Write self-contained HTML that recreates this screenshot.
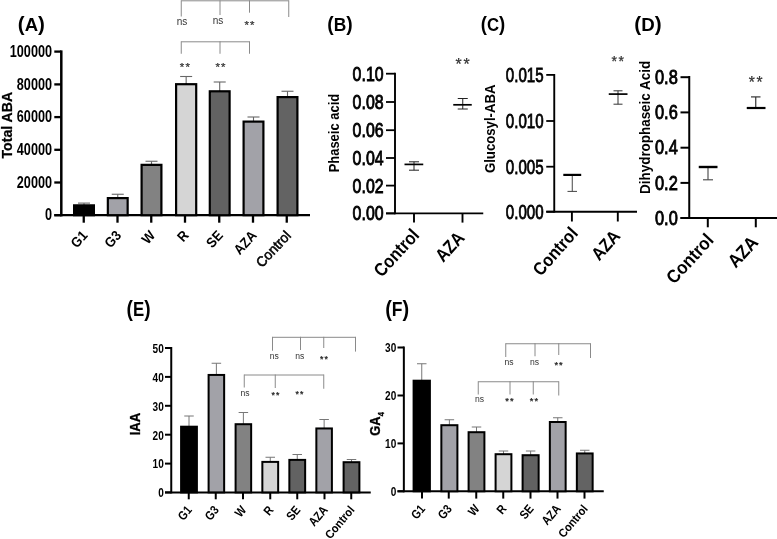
<!DOCTYPE html>
<html><head><meta charset="utf-8"><title>Figure</title>
<style>html,body{margin:0;padding:0;background:#fff;}svg{display:block;}</style></head>
<body><svg width="777" height="539" viewBox="0 0 777 539">
<defs><filter id="sb" x="0" y="0" width="100%" height="100%"><feGaussianBlur stdDeviation="0.35"/></filter></defs>
<rect width="777" height="539" fill="#fff"/>
<g filter="url(#sb)">
<text x="17.8" y="30.9" font-weight="bold" font-family="Liberation Sans, sans-serif" textLength="27.1" lengthAdjust="spacingAndGlyphs"><tspan font-size="20.5">(</tspan><tspan font-size="18.5">A</tspan><tspan font-size="20.5">)</tspan></text>
<line x1="61.3" y1="50.4" x2="61.3" y2="216.39999999999998" stroke="#000" stroke-width="2.5" stroke-linecap="butt"/>
<line x1="54.3" y1="215.1" x2="310" y2="215.1" stroke="#000" stroke-width="2.2" stroke-linecap="butt"/>
<line x1="54.3" y1="51.6" x2="61.3" y2="51.6" stroke="#000" stroke-width="2.3" stroke-linecap="butt"/>
<text x="0" y="0" font-size="16.5" font-weight="bold" text-anchor="end" fill="#000" font-family="Liberation Sans, sans-serif" transform="translate(52 56.800000000000004)" textLength="42.24" lengthAdjust="spacingAndGlyphs" >100000</text>
<line x1="54.3" y1="84.4" x2="61.3" y2="84.4" stroke="#000" stroke-width="2.3" stroke-linecap="butt"/>
<text x="0" y="0" font-size="16.5" font-weight="bold" text-anchor="end" fill="#000" font-family="Liberation Sans, sans-serif" transform="translate(52 89.60000000000001)" textLength="35.2" lengthAdjust="spacingAndGlyphs" >80000</text>
<line x1="54.3" y1="117.1" x2="61.3" y2="117.1" stroke="#000" stroke-width="2.3" stroke-linecap="butt"/>
<text x="0" y="0" font-size="16.5" font-weight="bold" text-anchor="end" fill="#000" font-family="Liberation Sans, sans-serif" transform="translate(52 122.3)" textLength="35.2" lengthAdjust="spacingAndGlyphs" >60000</text>
<line x1="54.3" y1="149.8" x2="61.3" y2="149.8" stroke="#000" stroke-width="2.3" stroke-linecap="butt"/>
<text x="0" y="0" font-size="16.5" font-weight="bold" text-anchor="end" fill="#000" font-family="Liberation Sans, sans-serif" transform="translate(52 155.0)" textLength="35.2" lengthAdjust="spacingAndGlyphs" >40000</text>
<line x1="54.3" y1="182.5" x2="61.3" y2="182.5" stroke="#000" stroke-width="2.3" stroke-linecap="butt"/>
<text x="0" y="0" font-size="16.5" font-weight="bold" text-anchor="end" fill="#000" font-family="Liberation Sans, sans-serif" transform="translate(52 187.7)" textLength="35.2" lengthAdjust="spacingAndGlyphs" >20000</text>
<line x1="54.3" y1="215.2" x2="61.3" y2="215.2" stroke="#000" stroke-width="2.3" stroke-linecap="butt"/>
<text x="0" y="0" font-size="16.5" font-weight="bold" text-anchor="end" fill="#000" font-family="Liberation Sans, sans-serif" transform="translate(52 220.39999999999998)" textLength="7.04" lengthAdjust="spacingAndGlyphs" >0</text>
<text x="0" y="0" font-size="15" font-weight="bold" text-anchor="middle" fill="#000" font-family="Liberation Sans, sans-serif" transform="translate(12.3 125.2) rotate(-90)" textLength="66.5" lengthAdjust="spacingAndGlyphs" stroke="#000" stroke-width="0.25">Total ABA</text>
<line x1="84.0" y1="203.1" x2="84.0" y2="205.25" stroke="#666" stroke-width="1.1" stroke-linecap="butt"/>
<line x1="78.0" y1="203.1" x2="90.0" y2="203.1" stroke="#666" stroke-width="1.1" stroke-linecap="butt"/>
<rect x="74.1" y="205.35" width="19.8" height="9.849999999999989" fill="#000000" stroke="#000" stroke-width="2.2"/>
<line x1="83.75" y1="215.2" x2="83.75" y2="222.7" stroke="#000" stroke-width="2.3" stroke-linecap="butt"/>
<text x="0" y="0" font-size="14" font-weight="bold" text-anchor="end" fill="#000" font-family="Liberation Sans, sans-serif" transform="translate(88.35 236) rotate(-47.5) scale(0.92 1)" >G1</text>
<line x1="117.75" y1="194.25" x2="117.75" y2="198" stroke="#666" stroke-width="1.1" stroke-linecap="butt"/>
<line x1="111.75" y1="194.25" x2="123.75" y2="194.25" stroke="#666" stroke-width="1.1" stroke-linecap="butt"/>
<rect x="107.85" y="198.1" width="19.8" height="17.099999999999987" fill="#a2a2a8" stroke="#000" stroke-width="2.2"/>
<line x1="117.5" y1="215.2" x2="117.5" y2="222.7" stroke="#000" stroke-width="2.3" stroke-linecap="butt"/>
<text x="0" y="0" font-size="14" font-weight="bold" text-anchor="end" fill="#000" font-family="Liberation Sans, sans-serif" transform="translate(122.1 236) rotate(-47.5) scale(0.92 1)" >G3</text>
<line x1="151.5" y1="161.25" x2="151.5" y2="164.75" stroke="#666" stroke-width="1.1" stroke-linecap="butt"/>
<line x1="145.5" y1="161.25" x2="157.5" y2="161.25" stroke="#666" stroke-width="1.1" stroke-linecap="butt"/>
<rect x="141.6" y="164.85" width="19.8" height="50.34999999999999" fill="#828282" stroke="#000" stroke-width="2.2"/>
<line x1="151.25" y1="215.2" x2="151.25" y2="222.7" stroke="#000" stroke-width="2.3" stroke-linecap="butt"/>
<text x="0" y="0" font-size="14" font-weight="bold" text-anchor="end" fill="#000" font-family="Liberation Sans, sans-serif" transform="translate(155.85 236) rotate(-47.5) scale(0.92 1)" >W</text>
<line x1="186.15" y1="76.5" x2="186.15" y2="84.1" stroke="#666" stroke-width="1.1" stroke-linecap="butt"/>
<line x1="180.15" y1="76.5" x2="192.15" y2="76.5" stroke="#666" stroke-width="1.1" stroke-linecap="butt"/>
<rect x="176.1" y="84.19999999999999" width="20.100000000000012" height="131.0" fill="#d5d5d5" stroke="#000" stroke-width="2.2"/>
<line x1="185" y1="215.2" x2="185" y2="222.7" stroke="#000" stroke-width="2.3" stroke-linecap="butt"/>
<text x="0" y="0" font-size="14" font-weight="bold" text-anchor="end" fill="#000" font-family="Liberation Sans, sans-serif" transform="translate(189.6 236) rotate(-47.5) scale(0.92 1)" >R</text>
<line x1="219.7" y1="82" x2="219.7" y2="91.2" stroke="#666" stroke-width="1.1" stroke-linecap="butt"/>
<line x1="213.7" y1="82" x2="225.7" y2="82" stroke="#666" stroke-width="1.1" stroke-linecap="butt"/>
<rect x="209.79999999999998" y="91.3" width="19.8" height="123.89999999999999" fill="#626262" stroke="#000" stroke-width="2.2"/>
<line x1="219.25" y1="215.2" x2="219.25" y2="222.7" stroke="#000" stroke-width="2.3" stroke-linecap="butt"/>
<text x="0" y="0" font-size="14" font-weight="bold" text-anchor="end" fill="#000" font-family="Liberation Sans, sans-serif" transform="translate(223.85 236) rotate(-47.5) scale(0.92 1)" >SE</text>
<line x1="253.5" y1="117" x2="253.5" y2="121.5" stroke="#666" stroke-width="1.1" stroke-linecap="butt"/>
<line x1="247.5" y1="117" x2="259.5" y2="117" stroke="#666" stroke-width="1.1" stroke-linecap="butt"/>
<rect x="243.6" y="121.6" width="19.8" height="93.6" fill="#a2a2a8" stroke="#000" stroke-width="2.2"/>
<line x1="253" y1="215.2" x2="253" y2="222.7" stroke="#000" stroke-width="2.3" stroke-linecap="butt"/>
<text x="0" y="0" font-size="14" font-weight="bold" text-anchor="end" fill="#000" font-family="Liberation Sans, sans-serif" transform="translate(257.6 236) rotate(-47.5) scale(0.92 1)" >AZA</text>
<line x1="287.5" y1="91.25" x2="287.5" y2="97" stroke="#666" stroke-width="1.1" stroke-linecap="butt"/>
<line x1="281.5" y1="91.25" x2="293.5" y2="91.25" stroke="#666" stroke-width="1.1" stroke-linecap="butt"/>
<rect x="277.6" y="97.1" width="19.8" height="118.1" fill="#646464" stroke="#000" stroke-width="2.2"/>
<line x1="286.75" y1="215.2" x2="286.75" y2="222.7" stroke="#000" stroke-width="2.3" stroke-linecap="butt"/>
<text x="0" y="0" font-size="14" font-weight="normal" text-anchor="end" fill="#000" font-family="Liberation Sans, sans-serif" transform="translate(291.75 236.2) rotate(-47) scale(0.97 1)" stroke="#000" stroke-width="0.55">Control</text>
<line x1="181.25" y1="0.8" x2="288.75" y2="0.8" stroke="#8a8a8a" stroke-width="1" stroke-linecap="butt"/>
<line x1="181.25" y1="0.30000000000000004" x2="181.25" y2="16.5" stroke="#8a8a8a" stroke-width="1" stroke-linecap="butt"/>
<line x1="220" y1="0.30000000000000004" x2="220" y2="15" stroke="#8a8a8a" stroke-width="1" stroke-linecap="butt"/>
<line x1="249.5" y1="0.30000000000000004" x2="249.5" y2="12.7" stroke="#8a8a8a" stroke-width="1" stroke-linecap="butt"/>
<line x1="288.75" y1="0.30000000000000004" x2="288.75" y2="17" stroke="#8a8a8a" stroke-width="1" stroke-linecap="butt"/>
<line x1="181.25" y1="41.8" x2="249.5" y2="41.8" stroke="#8a8a8a" stroke-width="1" stroke-linecap="butt"/>
<line x1="181.25" y1="41.3" x2="181.25" y2="53.75" stroke="#8a8a8a" stroke-width="1" stroke-linecap="butt"/>
<line x1="220" y1="41.3" x2="220" y2="53.75" stroke="#8a8a8a" stroke-width="1" stroke-linecap="butt"/>
<line x1="249.5" y1="41.3" x2="249.5" y2="53.75" stroke="#8a8a8a" stroke-width="1" stroke-linecap="butt"/>
<text x="0" y="0" font-size="10.92" font-weight="normal" text-anchor="middle" fill="#333" font-family="Liberation Sans, sans-serif" transform="translate(182 24.5) scale(0.92 1)" >ns</text>
<text x="0" y="0" font-size="10.92" font-weight="normal" text-anchor="middle" fill="#333" font-family="Liberation Sans, sans-serif" transform="translate(218 24) scale(0.92 1)" >ns</text>
<text x="0" y="0" font-size="11.41" font-weight="normal" text-anchor="middle" fill="#333" font-family="Liberation Sans, sans-serif" transform="translate(250.12755 28.87)" letter-spacing="1.26" stroke="#333" stroke-width="0.25">**</text>
<text x="0" y="0" font-size="11.41" font-weight="normal" text-anchor="middle" fill="#333" font-family="Liberation Sans, sans-serif" transform="translate(185.52755000000002 70.77)" letter-spacing="1.26" stroke="#333" stroke-width="0.25">**</text>
<text x="0" y="0" font-size="11.41" font-weight="normal" text-anchor="middle" fill="#333" font-family="Liberation Sans, sans-serif" transform="translate(221.12755 70.77)" letter-spacing="1.26" stroke="#333" stroke-width="0.25">**</text>
<text x="327.3" y="30.9" font-weight="bold" font-family="Liberation Sans, sans-serif" textLength="25.4" lengthAdjust="spacingAndGlyphs"><tspan font-size="20.5">(</tspan><tspan font-size="18.5">B</tspan><tspan font-size="20.5">)</tspan></text>
<line x1="395" y1="72.7" x2="395" y2="214.3" stroke="#000" stroke-width="1.9" stroke-linecap="butt"/>
<line x1="386" y1="213.4" x2="483.25" y2="213.4" stroke="#000" stroke-width="1.9" stroke-linecap="butt"/>
<line x1="386" y1="73.7" x2="395" y2="73.7" stroke="#000" stroke-width="1.8" stroke-linecap="butt"/>
<text x="0" y="0" font-size="20.5" font-weight="normal" text-anchor="end" fill="#000" font-family="Liberation Sans, sans-serif" transform="translate(383.6 80.60000000000001)" textLength="31" lengthAdjust="spacingAndGlyphs" stroke="#000" stroke-width="0.9">0.10</text>
<line x1="386" y1="102" x2="395" y2="102" stroke="#000" stroke-width="1.8" stroke-linecap="butt"/>
<text x="0" y="0" font-size="20.5" font-weight="normal" text-anchor="end" fill="#000" font-family="Liberation Sans, sans-serif" transform="translate(383.6 108.9)" textLength="31" lengthAdjust="spacingAndGlyphs" stroke="#000" stroke-width="0.9">0.08</text>
<line x1="386" y1="130.2" x2="395" y2="130.2" stroke="#000" stroke-width="1.8" stroke-linecap="butt"/>
<text x="0" y="0" font-size="20.5" font-weight="normal" text-anchor="end" fill="#000" font-family="Liberation Sans, sans-serif" transform="translate(383.6 137.1)" textLength="31" lengthAdjust="spacingAndGlyphs" stroke="#000" stroke-width="0.9">0.06</text>
<line x1="386" y1="158" x2="395" y2="158" stroke="#000" stroke-width="1.8" stroke-linecap="butt"/>
<text x="0" y="0" font-size="20.5" font-weight="normal" text-anchor="end" fill="#000" font-family="Liberation Sans, sans-serif" transform="translate(383.6 164.9)" textLength="31" lengthAdjust="spacingAndGlyphs" stroke="#000" stroke-width="0.9">0.04</text>
<line x1="386" y1="185.6" x2="395" y2="185.6" stroke="#000" stroke-width="1.8" stroke-linecap="butt"/>
<text x="0" y="0" font-size="20.5" font-weight="normal" text-anchor="end" fill="#000" font-family="Liberation Sans, sans-serif" transform="translate(383.6 192.5)" textLength="31" lengthAdjust="spacingAndGlyphs" stroke="#000" stroke-width="0.9">0.02</text>
<line x1="386" y1="213.4" x2="395" y2="213.4" stroke="#000" stroke-width="1.8" stroke-linecap="butt"/>
<text x="0" y="0" font-size="20.5" font-weight="normal" text-anchor="end" fill="#000" font-family="Liberation Sans, sans-serif" transform="translate(383.6 220.3)" textLength="31" lengthAdjust="spacingAndGlyphs" stroke="#000" stroke-width="0.9">0.00</text>
<text x="0" y="0" font-size="15.5" font-weight="bold" text-anchor="middle" fill="#000" font-family="Liberation Sans, sans-serif" transform="translate(338.5 133.1) rotate(-90)" textLength="78.5" lengthAdjust="spacingAndGlyphs" >Phaseic acid</text>
<line x1="414" y1="213.4" x2="414" y2="222.6" stroke="#000" stroke-width="1.9" stroke-linecap="butt"/>
<text x="0" y="0" font-size="18.5" font-weight="bold" text-anchor="end" fill="#000" font-family="Liberation Sans, sans-serif" transform="translate(420.3 235.9) rotate(-47.5) scale(0.87 1)" >Control</text>
<line x1="462.5" y1="213.4" x2="462.5" y2="222.6" stroke="#000" stroke-width="1.9" stroke-linecap="butt"/>
<text x="0" y="0" font-size="18.5" font-weight="bold" text-anchor="end" fill="#000" font-family="Liberation Sans, sans-serif" transform="translate(465.5 238.6) rotate(-47.5) scale(0.87 1)" >AZA</text>
<line x1="414" y1="161.8" x2="414" y2="170.2" stroke="#222" stroke-width="1" stroke-linecap="butt"/>
<line x1="409.0" y1="161.8" x2="419.0" y2="161.8" stroke="#222" stroke-width="1" stroke-linecap="butt"/>
<line x1="409.0" y1="170.2" x2="419.0" y2="170.2" stroke="#222" stroke-width="1" stroke-linecap="butt"/>
<line x1="404.5" y1="164.4" x2="423.25" y2="164.4" stroke="#000" stroke-width="1.7" stroke-linecap="butt"/>
<line x1="462.75" y1="98.5" x2="462.75" y2="109" stroke="#222" stroke-width="1" stroke-linecap="butt"/>
<line x1="457.75" y1="98.5" x2="467.75" y2="98.5" stroke="#222" stroke-width="1" stroke-linecap="butt"/>
<line x1="457.75" y1="109" x2="467.75" y2="109" stroke="#222" stroke-width="1" stroke-linecap="butt"/>
<line x1="453.25" y1="104.8" x2="471.75" y2="104.8" stroke="#000" stroke-width="1.7" stroke-linecap="butt"/>
<text x="0" y="0" font-size="15.88" font-weight="normal" text-anchor="middle" fill="#333" font-family="Liberation Sans, sans-serif" transform="translate(463.3734 70.46)" letter-spacing="1.75" stroke="#333" stroke-width="0.25">**</text>
<text x="480.7" y="30.9" font-weight="bold" font-family="Liberation Sans, sans-serif" textLength="24.5" lengthAdjust="spacingAndGlyphs"><tspan font-size="20.5">(</tspan><tspan font-size="18.5">C</tspan><tspan font-size="20.5">)</tspan></text>
<line x1="554.25" y1="74" x2="554.25" y2="212.6" stroke="#000" stroke-width="1.9" stroke-linecap="butt"/>
<line x1="546.25" y1="211.7" x2="637" y2="211.7" stroke="#000" stroke-width="1.9" stroke-linecap="butt"/>
<line x1="546.25" y1="74.9" x2="554.25" y2="74.9" stroke="#000" stroke-width="1.8" stroke-linecap="butt"/>
<text x="0" y="0" font-size="20" font-weight="normal" text-anchor="end" fill="#000" font-family="Liberation Sans, sans-serif" transform="translate(543.6 81.9)" textLength="37.8" lengthAdjust="spacingAndGlyphs" stroke="#000" stroke-width="0.8">0.015</text>
<line x1="546.25" y1="121" x2="554.25" y2="121" stroke="#000" stroke-width="1.8" stroke-linecap="butt"/>
<text x="0" y="0" font-size="20" font-weight="normal" text-anchor="end" fill="#000" font-family="Liberation Sans, sans-serif" transform="translate(543.6 128.0)" textLength="37.8" lengthAdjust="spacingAndGlyphs" stroke="#000" stroke-width="0.8">0.010</text>
<line x1="546.25" y1="166.7" x2="554.25" y2="166.7" stroke="#000" stroke-width="1.8" stroke-linecap="butt"/>
<text x="0" y="0" font-size="20" font-weight="normal" text-anchor="end" fill="#000" font-family="Liberation Sans, sans-serif" transform="translate(543.6 173.7)" textLength="37.8" lengthAdjust="spacingAndGlyphs" stroke="#000" stroke-width="0.8">0.005</text>
<line x1="546.25" y1="211.7" x2="554.25" y2="211.7" stroke="#000" stroke-width="1.8" stroke-linecap="butt"/>
<text x="0" y="0" font-size="20" font-weight="normal" text-anchor="end" fill="#000" font-family="Liberation Sans, sans-serif" transform="translate(543.6 218.7)" textLength="37.8" lengthAdjust="spacingAndGlyphs" stroke="#000" stroke-width="0.8">0.000</text>
<text x="0" y="0" font-size="15.5" font-weight="bold" text-anchor="middle" fill="#000" font-family="Liberation Sans, sans-serif" transform="translate(495 128.8) rotate(-90)" textLength="88.5" lengthAdjust="spacingAndGlyphs" >Glucosyl-ABA</text>
<line x1="571.9" y1="211.7" x2="571.9" y2="221.5" stroke="#000" stroke-width="1.9" stroke-linecap="butt"/>
<text x="0" y="0" font-size="18" font-weight="bold" text-anchor="end" fill="#000" font-family="Liberation Sans, sans-serif" transform="translate(578.9 233.9) rotate(-48.5) scale(0.9 1)" >Control</text>
<line x1="617.8" y1="211.7" x2="617.8" y2="221.5" stroke="#000" stroke-width="1.9" stroke-linecap="butt"/>
<text x="0" y="0" font-size="18" font-weight="bold" text-anchor="end" fill="#000" font-family="Liberation Sans, sans-serif" transform="translate(621.3 236.7) rotate(-48.5) scale(0.9 1)" >AZA</text>
<line x1="572.25" y1="175" x2="572.25" y2="191.4" stroke="#444" stroke-width="1" stroke-linecap="butt"/>
<line x1="567.5" y1="191.4" x2="577.0" y2="191.4" stroke="#444" stroke-width="1" stroke-linecap="butt"/>
<line x1="563.3" y1="174.9" x2="581.2" y2="174.9" stroke="#000" stroke-width="2.2" stroke-linecap="butt"/>
<line x1="618" y1="90.8" x2="618" y2="104.2" stroke="#333" stroke-width="1" stroke-linecap="butt"/>
<line x1="613.5" y1="90.8" x2="622.5" y2="90.8" stroke="#333" stroke-width="1" stroke-linecap="butt"/>
<line x1="613.5" y1="104.2" x2="622.5" y2="104.2" stroke="#333" stroke-width="1" stroke-linecap="butt"/>
<line x1="608.75" y1="94.1" x2="627.5" y2="94.1" stroke="#000" stroke-width="1.7" stroke-linecap="butt"/>
<text x="0" y="0" font-size="14.12" font-weight="normal" text-anchor="middle" fill="#333" font-family="Liberation Sans, sans-serif" transform="translate(618.5266 66.34)" letter-spacing="1.55" stroke="#333" stroke-width="0.25">**</text>
<text x="634.3" y="30.9" font-weight="bold" font-family="Liberation Sans, sans-serif" textLength="27.3" lengthAdjust="spacingAndGlyphs"><tspan font-size="20.5">(</tspan><tspan font-size="18.5">D</tspan><tspan font-size="20.5">)</tspan></text>
<line x1="689.25" y1="76" x2="689.25" y2="219" stroke="#000" stroke-width="2" stroke-linecap="butt"/>
<line x1="680.5" y1="218" x2="777" y2="218" stroke="#000" stroke-width="2" stroke-linecap="butt"/>
<line x1="680.5" y1="77.2" x2="689.25" y2="77.2" stroke="#000" stroke-width="2" stroke-linecap="butt"/>
<text x="0" y="0" font-size="20.5" font-weight="normal" text-anchor="end" fill="#000" font-family="Liberation Sans, sans-serif" transform="translate(677.8 83.9)" textLength="22.8" lengthAdjust="spacingAndGlyphs" stroke="#000" stroke-width="0.9">0.8</text>
<line x1="680.5" y1="112.4" x2="689.25" y2="112.4" stroke="#000" stroke-width="2" stroke-linecap="butt"/>
<text x="0" y="0" font-size="20.5" font-weight="normal" text-anchor="end" fill="#000" font-family="Liberation Sans, sans-serif" transform="translate(677.8 119.10000000000001)" textLength="22.8" lengthAdjust="spacingAndGlyphs" stroke="#000" stroke-width="0.9">0.6</text>
<line x1="680.5" y1="147.7" x2="689.25" y2="147.7" stroke="#000" stroke-width="2" stroke-linecap="butt"/>
<text x="0" y="0" font-size="20.5" font-weight="normal" text-anchor="end" fill="#000" font-family="Liberation Sans, sans-serif" transform="translate(677.8 154.39999999999998)" textLength="22.8" lengthAdjust="spacingAndGlyphs" stroke="#000" stroke-width="0.9">0.4</text>
<line x1="680.5" y1="182.9" x2="689.25" y2="182.9" stroke="#000" stroke-width="2" stroke-linecap="butt"/>
<text x="0" y="0" font-size="20.5" font-weight="normal" text-anchor="end" fill="#000" font-family="Liberation Sans, sans-serif" transform="translate(677.8 189.6)" textLength="22.8" lengthAdjust="spacingAndGlyphs" stroke="#000" stroke-width="0.9">0.2</text>
<line x1="680.5" y1="218" x2="689.25" y2="218" stroke="#000" stroke-width="2" stroke-linecap="butt"/>
<text x="0" y="0" font-size="20.5" font-weight="normal" text-anchor="end" fill="#000" font-family="Liberation Sans, sans-serif" transform="translate(677.8 224.7)" textLength="22.8" lengthAdjust="spacingAndGlyphs" stroke="#000" stroke-width="0.9">0.0</text>
<text x="0" y="0" font-size="15.5" font-weight="bold" text-anchor="middle" fill="#000" font-family="Liberation Sans, sans-serif" transform="translate(649.6 127.4) rotate(-90)" textLength="133" lengthAdjust="spacingAndGlyphs" >Dihydrophaseic Acid</text>
<line x1="707.8" y1="218" x2="707.8" y2="227.3" stroke="#000" stroke-width="2" stroke-linecap="butt"/>
<text x="0" y="0" font-size="18.5" font-weight="bold" text-anchor="end" fill="#000" font-family="Liberation Sans, sans-serif" transform="translate(714.7 240.9) rotate(-47.5) scale(0.91 1)" >Control</text>
<line x1="755.8" y1="218" x2="755.8" y2="227.3" stroke="#000" stroke-width="2" stroke-linecap="butt"/>
<text x="0" y="0" font-size="18.5" font-weight="bold" text-anchor="end" fill="#000" font-family="Liberation Sans, sans-serif" transform="translate(759.1 243.2) rotate(-47.5) scale(0.91 1)" >AZA</text>
<line x1="708" y1="167" x2="708" y2="179.8" stroke="#444" stroke-width="1.1" stroke-linecap="butt"/>
<line x1="703.0" y1="179.8" x2="713.0" y2="179.8" stroke="#444" stroke-width="1.1" stroke-linecap="butt"/>
<line x1="698.75" y1="167" x2="717.5" y2="167" stroke="#000" stroke-width="2.4" stroke-linecap="butt"/>
<line x1="755.75" y1="96.9" x2="755.75" y2="108" stroke="#333" stroke-width="1.2" stroke-linecap="butt"/>
<line x1="751.0" y1="96.9" x2="760.5" y2="96.9" stroke="#333" stroke-width="1.2" stroke-linecap="butt"/>
<line x1="746.75" y1="108" x2="765.5" y2="108" stroke="#000" stroke-width="2.2" stroke-linecap="butt"/>
<text x="0" y="0" font-size="15.59" font-weight="normal" text-anchor="middle" fill="#333" font-family="Liberation Sans, sans-serif" transform="translate(756.60745 87.76)" letter-spacing="1.71" stroke="#333" stroke-width="0.25">**</text>
<text x="126.6" y="315.8" font-weight="bold" font-family="Liberation Sans, sans-serif" textLength="24.0" lengthAdjust="spacingAndGlyphs"><tspan font-size="22.5">(</tspan><tspan font-size="19.75">E</tspan><tspan font-size="22.5">)</tspan></text>
<line x1="171.25" y1="347" x2="171.25" y2="493.4" stroke="#000" stroke-width="2" stroke-linecap="butt"/>
<line x1="165" y1="492.4" x2="370.75" y2="492.4" stroke="#000" stroke-width="2" stroke-linecap="butt"/>
<line x1="165" y1="348" x2="171.25" y2="348" stroke="#000" stroke-width="2" stroke-linecap="butt"/>
<text x="0" y="0" font-size="13.5" font-weight="bold" text-anchor="end" fill="#000" font-family="Liberation Sans, sans-serif" transform="translate(163.75 352.8)" textLength="11.2" lengthAdjust="spacingAndGlyphs" >50</text>
<line x1="165" y1="376.9" x2="171.25" y2="376.9" stroke="#000" stroke-width="2" stroke-linecap="butt"/>
<text x="0" y="0" font-size="13.5" font-weight="bold" text-anchor="end" fill="#000" font-family="Liberation Sans, sans-serif" transform="translate(163.75 381.7)" textLength="11.2" lengthAdjust="spacingAndGlyphs" >40</text>
<line x1="165" y1="405.8" x2="171.25" y2="405.8" stroke="#000" stroke-width="2" stroke-linecap="butt"/>
<text x="0" y="0" font-size="13.5" font-weight="bold" text-anchor="end" fill="#000" font-family="Liberation Sans, sans-serif" transform="translate(163.75 410.6)" textLength="11.2" lengthAdjust="spacingAndGlyphs" >30</text>
<line x1="165" y1="434.7" x2="171.25" y2="434.7" stroke="#000" stroke-width="2" stroke-linecap="butt"/>
<text x="0" y="0" font-size="13.5" font-weight="bold" text-anchor="end" fill="#000" font-family="Liberation Sans, sans-serif" transform="translate(163.75 439.5)" textLength="11.2" lengthAdjust="spacingAndGlyphs" >20</text>
<line x1="165" y1="463.6" x2="171.25" y2="463.6" stroke="#000" stroke-width="2" stroke-linecap="butt"/>
<text x="0" y="0" font-size="13.5" font-weight="bold" text-anchor="end" fill="#000" font-family="Liberation Sans, sans-serif" transform="translate(163.75 468.40000000000003)" textLength="11.2" lengthAdjust="spacingAndGlyphs" >10</text>
<line x1="165" y1="492.4" x2="171.25" y2="492.4" stroke="#000" stroke-width="2" stroke-linecap="butt"/>
<text x="0" y="0" font-size="13.5" font-weight="bold" text-anchor="end" fill="#000" font-family="Liberation Sans, sans-serif" transform="translate(163.75 497.2)" textLength="5.6" lengthAdjust="spacingAndGlyphs" >0</text>
<text x="0" y="0" font-size="15.5" font-weight="bold" text-anchor="middle" fill="#000" font-family="Liberation Sans, sans-serif" transform="translate(139.5 424) rotate(-90)" textLength="22.6" lengthAdjust="spacingAndGlyphs" stroke="#000" stroke-width="0.3">IAA</text>
<line x1="189.0" y1="416" x2="189.0" y2="427" stroke="#777" stroke-width="1" stroke-linecap="butt"/>
<line x1="184.25" y1="416" x2="193.75" y2="416" stroke="#777" stroke-width="1" stroke-linecap="butt"/>
<rect x="181.1" y="426.7" width="15.800000000000011" height="65.69999999999999" fill="#000000" stroke="#000" stroke-width="2.0"/>
<line x1="188.75" y1="492.4" x2="188.75" y2="499.3" stroke="#000" stroke-width="2" stroke-linecap="butt"/>
<text x="0" y="0" font-size="12.5" font-weight="bold" text-anchor="end" fill="#000" font-family="Liberation Sans, sans-serif" transform="translate(192.65 510.3) rotate(-50) scale(0.85 1)" >G1</text>
<line x1="216.375" y1="363.25" x2="216.375" y2="375.25" stroke="#777" stroke-width="1" stroke-linecap="butt"/>
<line x1="211.625" y1="363.25" x2="221.125" y2="363.25" stroke="#777" stroke-width="1" stroke-linecap="butt"/>
<rect x="208.6" y="374.95" width="15.550000000000011" height="117.44999999999999" fill="#a2a2a8" stroke="#000" stroke-width="2.0"/>
<line x1="215.75" y1="492.4" x2="215.75" y2="499.3" stroke="#000" stroke-width="2" stroke-linecap="butt"/>
<text x="0" y="0" font-size="12.5" font-weight="bold" text-anchor="end" fill="#000" font-family="Liberation Sans, sans-serif" transform="translate(219.65 510.3) rotate(-50) scale(0.85 1)" >G3</text>
<line x1="243.375" y1="412.5" x2="243.375" y2="424.5" stroke="#777" stroke-width="1" stroke-linecap="butt"/>
<line x1="238.625" y1="412.5" x2="248.125" y2="412.5" stroke="#777" stroke-width="1" stroke-linecap="butt"/>
<rect x="235.6" y="424.2" width="15.550000000000011" height="68.19999999999999" fill="#828282" stroke="#000" stroke-width="2.0"/>
<line x1="243" y1="492.4" x2="243" y2="499.3" stroke="#000" stroke-width="2" stroke-linecap="butt"/>
<text x="0" y="0" font-size="12.5" font-weight="bold" text-anchor="end" fill="#000" font-family="Liberation Sans, sans-serif" transform="translate(246.9 510.3) rotate(-50) scale(0.85 1)" >W</text>
<line x1="270.25" y1="457.25" x2="270.25" y2="462.2" stroke="#777" stroke-width="1" stroke-linecap="butt"/>
<line x1="265.5" y1="457.25" x2="275.0" y2="457.25" stroke="#777" stroke-width="1" stroke-linecap="butt"/>
<rect x="262.35" y="461.9" width="15.799999999999955" height="30.5" fill="#d5d5d5" stroke="#000" stroke-width="2.0"/>
<line x1="270.25" y1="492.4" x2="270.25" y2="499.3" stroke="#000" stroke-width="2" stroke-linecap="butt"/>
<text x="0" y="0" font-size="12.5" font-weight="bold" text-anchor="end" fill="#000" font-family="Liberation Sans, sans-serif" transform="translate(274.15 510.3) rotate(-50) scale(0.85 1)" >R</text>
<line x1="297.25" y1="454.5" x2="297.25" y2="460.2" stroke="#777" stroke-width="1" stroke-linecap="butt"/>
<line x1="292.5" y1="454.5" x2="302.0" y2="454.5" stroke="#777" stroke-width="1" stroke-linecap="butt"/>
<rect x="289.35" y="459.9" width="15.799999999999955" height="32.5" fill="#626262" stroke="#000" stroke-width="2.0"/>
<line x1="297.25" y1="492.4" x2="297.25" y2="499.3" stroke="#000" stroke-width="2" stroke-linecap="butt"/>
<text x="0" y="0" font-size="12.5" font-weight="bold" text-anchor="end" fill="#000" font-family="Liberation Sans, sans-serif" transform="translate(301.15 510.3) rotate(-50) scale(0.85 1)" >SE</text>
<line x1="324.125" y1="419.5" x2="324.125" y2="428.75" stroke="#777" stroke-width="1" stroke-linecap="butt"/>
<line x1="319.375" y1="419.5" x2="328.875" y2="419.5" stroke="#777" stroke-width="1" stroke-linecap="butt"/>
<rect x="316.35" y="428.45" width="15.549999999999955" height="63.94999999999999" fill="#a2a2a8" stroke="#000" stroke-width="2.0"/>
<line x1="324.5" y1="492.4" x2="324.5" y2="499.3" stroke="#000" stroke-width="2" stroke-linecap="butt"/>
<text x="0" y="0" font-size="12.5" font-weight="bold" text-anchor="end" fill="#000" font-family="Liberation Sans, sans-serif" transform="translate(328.4 510.3) rotate(-50) scale(0.85 1)" >AZA</text>
<line x1="351.5" y1="459.5" x2="351.5" y2="462.5" stroke="#777" stroke-width="1" stroke-linecap="butt"/>
<line x1="346.75" y1="459.5" x2="356.25" y2="459.5" stroke="#777" stroke-width="1" stroke-linecap="butt"/>
<rect x="343.6" y="462.2" width="15.799999999999955" height="30.19999999999999" fill="#646464" stroke="#000" stroke-width="2.0"/>
<line x1="351.25" y1="492.4" x2="351.25" y2="499.3" stroke="#000" stroke-width="2" stroke-linecap="butt"/>
<text x="0" y="0" font-size="12" font-weight="bold" text-anchor="end" fill="#000" font-family="Liberation Sans, sans-serif" transform="translate(355.15 510.3) rotate(-50) scale(0.9 1)" >Control</text>
<line x1="272.5" y1="337.3" x2="355.5" y2="337.3" stroke="#8a8a8a" stroke-width="1" stroke-linecap="butt"/>
<line x1="272.5" y1="336.8" x2="272.5" y2="350.75" stroke="#8a8a8a" stroke-width="1" stroke-linecap="butt"/>
<line x1="300.5" y1="336.8" x2="300.5" y2="350" stroke="#8a8a8a" stroke-width="1" stroke-linecap="butt"/>
<line x1="323.75" y1="336.8" x2="323.75" y2="348" stroke="#8a8a8a" stroke-width="1" stroke-linecap="butt"/>
<line x1="355.5" y1="336.8" x2="355.5" y2="351.6" stroke="#8a8a8a" stroke-width="1" stroke-linecap="butt"/>
<line x1="244.25" y1="375" x2="323.75" y2="375" stroke="#8a8a8a" stroke-width="1" stroke-linecap="butt"/>
<line x1="244.25" y1="374.5" x2="244.25" y2="387.5" stroke="#8a8a8a" stroke-width="1" stroke-linecap="butt"/>
<line x1="275.25" y1="374.5" x2="275.25" y2="388" stroke="#8a8a8a" stroke-width="1" stroke-linecap="butt"/>
<line x1="323.75" y1="374.5" x2="323.75" y2="388.75" stroke="#8a8a8a" stroke-width="1" stroke-linecap="butt"/>
<text x="0" y="0" font-size="9.36" font-weight="normal" text-anchor="middle" fill="#333" font-family="Liberation Sans, sans-serif" transform="translate(274.3 358.8) scale(0.92 1)" >ns</text>
<text x="0" y="0" font-size="9.36" font-weight="normal" text-anchor="middle" fill="#333" font-family="Liberation Sans, sans-serif" transform="translate(299.8 358.8) scale(0.92 1)" >ns</text>
<text x="0" y="0" font-size="8.82" font-weight="normal" text-anchor="middle" fill="#222" font-family="Liberation Sans, sans-serif" transform="translate(324.4851 361.59)" letter-spacing="0.97" stroke="#222" stroke-width="0.25">**</text>
<text x="0" y="0" font-size="9.36" font-weight="normal" text-anchor="middle" fill="#333" font-family="Liberation Sans, sans-serif" transform="translate(245 395.5) scale(0.92 1)" >ns</text>
<text x="0" y="0" font-size="8.82" font-weight="normal" text-anchor="middle" fill="#222" font-family="Liberation Sans, sans-serif" transform="translate(275.9851 398.09)" letter-spacing="0.97" stroke="#222" stroke-width="0.25">**</text>
<text x="0" y="0" font-size="8.82" font-weight="normal" text-anchor="middle" fill="#222" font-family="Liberation Sans, sans-serif" transform="translate(299.9851 396.84)" letter-spacing="0.97" stroke="#222" stroke-width="0.25">**</text>
<text x="385.2" y="315.8" font-weight="bold" font-family="Liberation Sans, sans-serif" textLength="24.0" lengthAdjust="spacingAndGlyphs"><tspan font-size="22.5">(</tspan><tspan font-size="19.75">F</tspan><tspan font-size="22.5">)</tspan></text>
<line x1="403.85" y1="346.5" x2="403.85" y2="492.3" stroke="#000" stroke-width="2" stroke-linecap="butt"/>
<line x1="397.5" y1="491.3" x2="603.75" y2="491.3" stroke="#000" stroke-width="2" stroke-linecap="butt"/>
<line x1="397.5" y1="347.5" x2="403.85" y2="347.5" stroke="#000" stroke-width="2" stroke-linecap="butt"/>
<text x="0" y="0" font-size="13.5" font-weight="bold" text-anchor="end" fill="#000" font-family="Liberation Sans, sans-serif" transform="translate(396.3 352.3)" textLength="11.2" lengthAdjust="spacingAndGlyphs" >30</text>
<line x1="397.5" y1="395.5" x2="403.85" y2="395.5" stroke="#000" stroke-width="2" stroke-linecap="butt"/>
<text x="0" y="0" font-size="13.5" font-weight="bold" text-anchor="end" fill="#000" font-family="Liberation Sans, sans-serif" transform="translate(396.3 400.3)" textLength="11.2" lengthAdjust="spacingAndGlyphs" >20</text>
<line x1="397.5" y1="443.4" x2="403.85" y2="443.4" stroke="#000" stroke-width="2" stroke-linecap="butt"/>
<text x="0" y="0" font-size="13.5" font-weight="bold" text-anchor="end" fill="#000" font-family="Liberation Sans, sans-serif" transform="translate(396.3 448.2)" textLength="11.2" lengthAdjust="spacingAndGlyphs" >10</text>
<line x1="397.5" y1="491.3" x2="403.85" y2="491.3" stroke="#000" stroke-width="2" stroke-linecap="butt"/>
<text x="0" y="0" font-size="13.5" font-weight="bold" text-anchor="end" fill="#000" font-family="Liberation Sans, sans-serif" transform="translate(396.3 496.1)" textLength="5.6" lengthAdjust="spacingAndGlyphs" >0</text>
<text x="0" y="0" font-size="15.5" font-weight="bold" text-anchor="start" font-family="Liberation Sans, sans-serif" transform="translate(379.6 435.7) rotate(-90) scale(0.83 1)" stroke="#000" stroke-width="0.3">GA<tspan font-size="9" dy="4.8" dx="0.3">4</tspan></text>
<line x1="421.75" y1="363.75" x2="421.75" y2="381" stroke="#777" stroke-width="1" stroke-linecap="butt"/>
<line x1="417.0" y1="363.75" x2="426.5" y2="363.75" stroke="#777" stroke-width="1" stroke-linecap="butt"/>
<rect x="413.6" y="380.7" width="16.299999999999955" height="110.60000000000002" fill="#000000" stroke="#000" stroke-width="2.0"/>
<line x1="422" y1="491.3" x2="422" y2="498.6" stroke="#000" stroke-width="2" stroke-linecap="butt"/>
<text x="0" y="0" font-size="12.5" font-weight="bold" text-anchor="end" fill="#000" font-family="Liberation Sans, sans-serif" transform="translate(425.9 509.1) rotate(-50) scale(0.85 1)" >G1</text>
<line x1="449.375" y1="419.75" x2="449.375" y2="425.5" stroke="#777" stroke-width="1" stroke-linecap="butt"/>
<line x1="444.625" y1="419.75" x2="454.125" y2="419.75" stroke="#777" stroke-width="1" stroke-linecap="butt"/>
<rect x="441.35" y="425.2" width="16.049999999999955" height="66.10000000000002" fill="#a2a2a8" stroke="#000" stroke-width="2.0"/>
<line x1="448.75" y1="491.3" x2="448.75" y2="498.6" stroke="#000" stroke-width="2" stroke-linecap="butt"/>
<text x="0" y="0" font-size="12.5" font-weight="bold" text-anchor="end" fill="#000" font-family="Liberation Sans, sans-serif" transform="translate(452.65 509.1) rotate(-50) scale(0.85 1)" >G3</text>
<line x1="476.5" y1="427" x2="476.5" y2="432.5" stroke="#777" stroke-width="1" stroke-linecap="butt"/>
<line x1="471.75" y1="427" x2="481.25" y2="427" stroke="#777" stroke-width="1" stroke-linecap="butt"/>
<rect x="468.6" y="432.2" width="15.799999999999955" height="59.10000000000002" fill="#828282" stroke="#000" stroke-width="2.0"/>
<line x1="476.25" y1="491.3" x2="476.25" y2="498.6" stroke="#000" stroke-width="2" stroke-linecap="butt"/>
<text x="0" y="0" font-size="12.5" font-weight="bold" text-anchor="end" fill="#000" font-family="Liberation Sans, sans-serif" transform="translate(480.15 509.1) rotate(-50) scale(0.85 1)" >W</text>
<line x1="503.5" y1="451" x2="503.5" y2="454.5" stroke="#777" stroke-width="1" stroke-linecap="butt"/>
<line x1="498.75" y1="451" x2="508.25" y2="451" stroke="#777" stroke-width="1" stroke-linecap="butt"/>
<rect x="495.6" y="454.2" width="15.799999999999955" height="37.10000000000002" fill="#d5d5d5" stroke="#000" stroke-width="2.0"/>
<line x1="503.25" y1="491.3" x2="503.25" y2="498.6" stroke="#000" stroke-width="2" stroke-linecap="butt"/>
<text x="0" y="0" font-size="12.5" font-weight="bold" text-anchor="end" fill="#000" font-family="Liberation Sans, sans-serif" transform="translate(507.15 509.1) rotate(-50) scale(0.85 1)" >R</text>
<line x1="530.625" y1="451" x2="530.625" y2="455.5" stroke="#777" stroke-width="1" stroke-linecap="butt"/>
<line x1="525.875" y1="451" x2="535.375" y2="451" stroke="#777" stroke-width="1" stroke-linecap="butt"/>
<rect x="522.6" y="455.2" width="16.049999999999955" height="36.10000000000002" fill="#626262" stroke="#000" stroke-width="2.0"/>
<line x1="530.5" y1="491.3" x2="530.5" y2="498.6" stroke="#000" stroke-width="2" stroke-linecap="butt"/>
<text x="0" y="0" font-size="12.5" font-weight="bold" text-anchor="end" fill="#000" font-family="Liberation Sans, sans-serif" transform="translate(534.4 509.1) rotate(-50) scale(0.85 1)" >SE</text>
<line x1="557.75" y1="417.75" x2="557.75" y2="422.3" stroke="#777" stroke-width="1" stroke-linecap="butt"/>
<line x1="553.0" y1="417.75" x2="562.5" y2="417.75" stroke="#777" stroke-width="1" stroke-linecap="butt"/>
<rect x="549.85" y="422.0" width="15.799999999999955" height="69.30000000000001" fill="#a2a2a8" stroke="#000" stroke-width="2.0"/>
<line x1="557.5" y1="491.3" x2="557.5" y2="498.6" stroke="#000" stroke-width="2" stroke-linecap="butt"/>
<text x="0" y="0" font-size="12.5" font-weight="bold" text-anchor="end" fill="#000" font-family="Liberation Sans, sans-serif" transform="translate(561.4 509.1) rotate(-50) scale(0.85 1)" >AZA</text>
<line x1="584.75" y1="450.25" x2="584.75" y2="453.75" stroke="#777" stroke-width="1" stroke-linecap="butt"/>
<line x1="580.0" y1="450.25" x2="589.5" y2="450.25" stroke="#777" stroke-width="1" stroke-linecap="butt"/>
<rect x="576.85" y="453.45" width="15.799999999999955" height="37.85000000000002" fill="#646464" stroke="#000" stroke-width="2.0"/>
<line x1="584.5" y1="491.3" x2="584.5" y2="498.6" stroke="#000" stroke-width="2" stroke-linecap="butt"/>
<text x="0" y="0" font-size="12" font-weight="bold" text-anchor="end" fill="#000" font-family="Liberation Sans, sans-serif" transform="translate(588.4 509.1) rotate(-50) scale(0.9 1)" >Control</text>
<line x1="505.75" y1="343.75" x2="590.5" y2="343.75" stroke="#8a8a8a" stroke-width="1" stroke-linecap="butt"/>
<line x1="505.75" y1="343.25" x2="505.75" y2="357" stroke="#8a8a8a" stroke-width="1" stroke-linecap="butt"/>
<line x1="535" y1="343.25" x2="535" y2="356.25" stroke="#8a8a8a" stroke-width="1" stroke-linecap="butt"/>
<line x1="558.75" y1="343.25" x2="558.75" y2="355" stroke="#8a8a8a" stroke-width="1" stroke-linecap="butt"/>
<line x1="590.5" y1="343.25" x2="590.5" y2="358" stroke="#8a8a8a" stroke-width="1" stroke-linecap="butt"/>
<line x1="478.25" y1="381.75" x2="558.75" y2="381.75" stroke="#8a8a8a" stroke-width="1" stroke-linecap="butt"/>
<line x1="478.25" y1="381.25" x2="478.25" y2="394.5" stroke="#8a8a8a" stroke-width="1" stroke-linecap="butt"/>
<line x1="510" y1="381.25" x2="510" y2="394.5" stroke="#8a8a8a" stroke-width="1" stroke-linecap="butt"/>
<line x1="533.25" y1="381.25" x2="533.25" y2="394.5" stroke="#8a8a8a" stroke-width="1" stroke-linecap="butt"/>
<line x1="558.75" y1="381.25" x2="558.75" y2="395.5" stroke="#8a8a8a" stroke-width="1" stroke-linecap="butt"/>
<text x="0" y="0" font-size="9.36" font-weight="normal" text-anchor="middle" fill="#333" font-family="Liberation Sans, sans-serif" transform="translate(509 365) scale(0.92 1)" >ns</text>
<text x="0" y="0" font-size="9.36" font-weight="normal" text-anchor="middle" fill="#333" font-family="Liberation Sans, sans-serif" transform="translate(534.5 365) scale(0.92 1)" >ns</text>
<text x="0" y="0" font-size="9.41" font-weight="normal" text-anchor="middle" fill="#222" font-family="Liberation Sans, sans-serif" transform="translate(559.11755 368.24)" letter-spacing="1.04" stroke="#222" stroke-width="0.25">**</text>
<text x="0" y="0" font-size="9.36" font-weight="normal" text-anchor="middle" fill="#333" font-family="Liberation Sans, sans-serif" transform="translate(479.5 402) scale(0.92 1)" >ns</text>
<text x="0" y="0" font-size="9.41" font-weight="normal" text-anchor="middle" fill="#222" font-family="Liberation Sans, sans-serif" transform="translate(510.01755 404.49)" letter-spacing="1.04" stroke="#222" stroke-width="0.25">**</text>
<text x="0" y="0" font-size="9.41" font-weight="normal" text-anchor="middle" fill="#222" font-family="Liberation Sans, sans-serif" transform="translate(534.51755 403.99)" letter-spacing="1.04" stroke="#222" stroke-width="0.25">**</text>
</g>
</svg></body></html>
